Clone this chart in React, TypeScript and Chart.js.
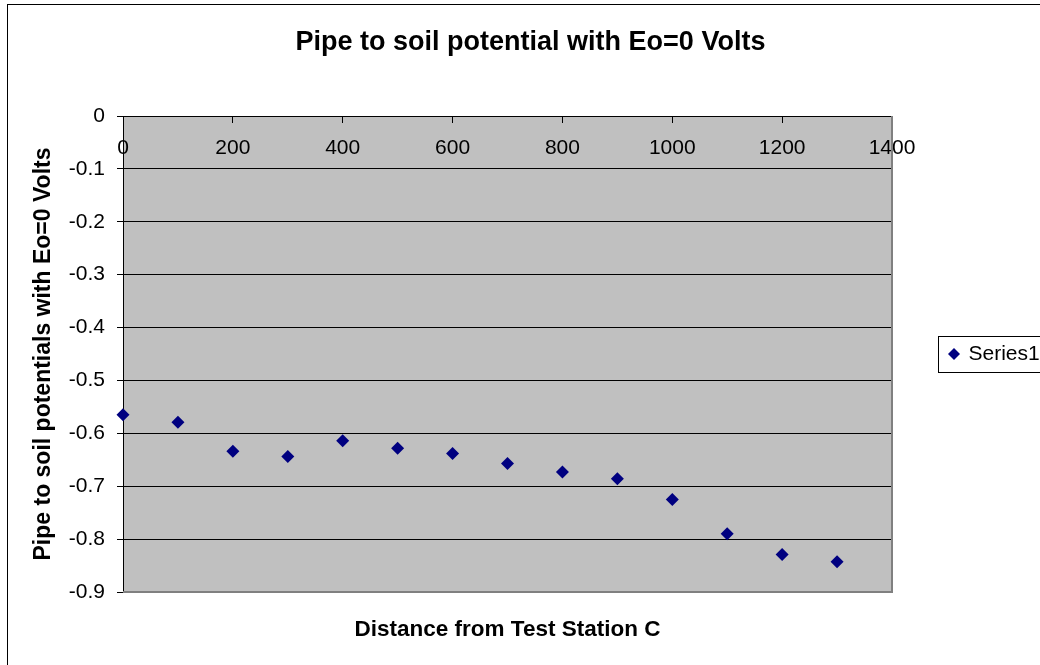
import React, { useEffect, useRef } from "react";
import { Chart, registerables } from "chart.js";

Chart.register(...registerables);

// ---- data ----
const distances = [0, 100, 200, 300, 400, 500, 600, 700, 800, 900, 1000, 1100, 1200, 1300];
const potentials = [-0.565, -0.579, -0.634, -0.644, -0.614, -0.628, -0.638, -0.657, -0.673, -0.686, -0.725, -0.79, -0.829, -0.843];
const seriesName = "Series1";
const chartTitle = "Pipe to soil potential with Eo=0 Volts";
const xTitle = "Distance from Test Station C";
const yTitle = "Pipe to soil potentials with Eo=0 Volts";
const xMin = 0;
const xMax = 1400;
const xStep = 200;
const yMin = -0.9;
const yMax = 0;
const yStep = 0.1;

const FONT = "'Liberation Sans', Arial, Helvetica, sans-serif";

const framePlugin = {
  id: "excelFrame",
  beforeDraw(chart: any) {
    const { ctx, chartArea, width, height } = chart;
    ctx.save();
    ctx.fillStyle = "#ffffff";
    ctx.fillRect(0, 0, width, height);
    ctx.fillStyle = "#C0C0C0";
    ctx.fillRect(chartArea.left, chartArea.top, chartArea.right - chartArea.left, chartArea.bottom - chartArea.top);
    ctx.strokeStyle = "#000000";
    ctx.lineWidth = 1;
    ctx.strokeRect(7.5, 4.5, width + 50, height + 50);
    ctx.restore();
  },
  beforeDatasetsDraw(chart: any) {
    const { ctx, chartArea } = chart;
    ctx.save();
    ctx.strokeStyle = "#808080";
    ctx.lineWidth = 2;
    ctx.beginPath();
    ctx.moveTo(chartArea.right, chartArea.top);
    ctx.lineTo(chartArea.right, chartArea.bottom);
    ctx.lineTo(chartArea.left, chartArea.bottom);
    ctx.stroke();
    ctx.restore();
  },
  afterDraw(chart: any) {
    const lg = chart.legend;
    if (!lg || !lg.legendHitBoxes || !lg.legendHitBoxes.length) return;
    const hb = lg.legendHitBoxes[0];
    const { ctx } = chart;
    const cy = hb.top + hb.height / 2;
    ctx.save();
    ctx.strokeStyle = "#000000";
    ctx.lineWidth = 1;
    ctx.strokeRect(Math.round(hb.left - 12) + 0.5, Math.round(cy - 18) + 0.5, 200, 36);
    ctx.restore();
  },
};

export default function App() {
  const ref = useRef<HTMLCanvasElement | null>(null);

  useEffect(() => {
    document.body.style.margin = "0";
    if (!ref.current) return;
    Chart.defaults.font.family = FONT;
    const chart = new Chart(ref.current, {
      type: "scatter",
      data: {
        datasets: [
          {
            label: seriesName,
            data: distances.map((d, i) => ({ x: d, y: potentials[i] })),
            pointStyle: "rectRot",
            pointRadius: 6.5,
            pointHoverRadius: 6.5,
            backgroundColor: "#000080",
            borderColor: "#000080",
            borderWidth: 0,
            showLine: false,
            clip: false,
            xAxisID: "x",
            yAxisID: "y",
          } as any,
        ],
      },
      options: {
        responsive: false,
        animation: false,
        devicePixelRatio: 1,
        events: [],
        layout: { padding: { left: 21, right: 0, top: 0, bottom: 0 } },
        scales: {
          x: {
            type: "linear",
            position: "bottom",
            min: xMin,
            max: xMax,
            ticks: { display: false, stepSize: xStep },
            grid: { display: false },
            border: { display: false },
            title: {
              display: true,
              text: xTitle,
              color: "#000",
              font: { family: FONT, size: 22.5, weight: "bold" },
              padding: { top: 0, bottom: 21.5 },
            },
            afterFit: (s: any) => {
              s.height = 73;
            },
          },
          x2: {
            type: "linear",
            axis: "x",
            position: { y: 0 },
            min: xMin,
            max: xMax,
            ticks: {
              stepSize: xStep,
              color: "#000",
              font: { family: FONT, size: 21 },
              padding: 14,
              maxRotation: 0,
              autoSkip: false,
              callback: (v: any) => String(Math.round(Number(v))),
            },
            grid: { drawOnChartArea: false, drawTicks: true, tickLength: 6, color: "#000", lineWidth: 1 },
            border: { display: true, color: "#000", width: 1 },
            afterFit: (s: any) => {
              s.height = 0;
            },
          } as any,
          y: {
            type: "linear",
            position: "left",
            min: yMin,
            max: yMax,
            ticks: {
              stepSize: yStep,
              color: "#000",
              font: { family: FONT, size: 21 },
              padding: 12,
              callback: (v: any) => {
                const n = Math.round(Number(v) * 10) / 10;
                return n === 0 ? "0" : n.toFixed(1);
              },
            },
            grid: { color: "#000", lineWidth: 1, tickLength: 6, drawTicks: true },
            border: { display: true, color: "#000", width: 1 },
            title: {
              display: true,
              text: yTitle,
              color: "#000",
              font: { family: FONT, size: 23, weight: "bold" },
              padding: { top: 9.2, bottom: 0 },
            },
            afterFit: (s: any) => {
              s.width = 102;
            },
          },
        },
        plugins: {
          title: {
            display: true,
            text: chartTitle,
            color: "#000",
            font: { family: FONT, size: 27, weight: "bold" },
            padding: { top: 26, bottom: 57.6 },
          },
          legend: {
            display: true,
            position: "right",
            align: "center",
            fullSize: false,
            maxWidth: 148,
            labels: {
              usePointStyle: true,
              pointStyle: "rectRot",
              boxWidth: 8,
              boxHeight: 8.5,
              padding: 58,
              color: "#000",
              font: { family: FONT, size: 21 },
            },
          },
          tooltip: { enabled: false },
        },
      } as any,
      plugins: [framePlugin],
    });
    return () => chart.destroy();
  }, []);

  return (
    <div style={{ width: 1040, height: 665, position: "relative" }}>
      <canvas ref={ref} width={1040} height={665} style={{ display: "block", width: 1040, height: 665 }} />
    </div>
  );
}
